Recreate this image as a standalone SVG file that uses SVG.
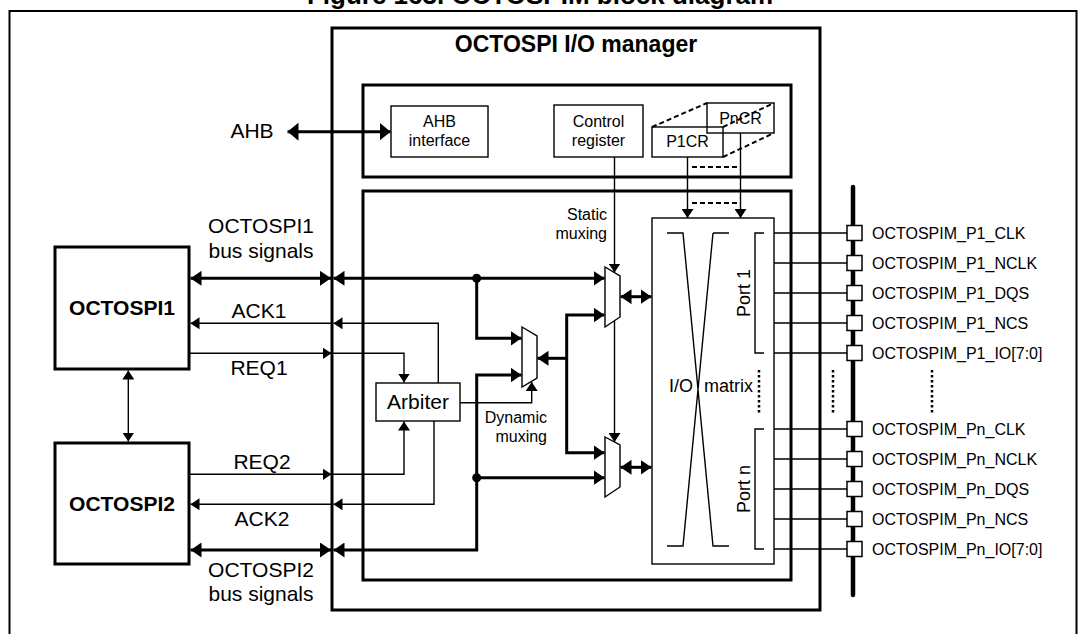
<svg xmlns="http://www.w3.org/2000/svg" width="1079" height="634" viewBox="0 0 1079 634">
<style>
text{font-family:"Liberation Sans",Arial,Helvetica,sans-serif;fill:#000}
.t21{font-size:21px}
.t16{font-size:16px}
.t18{font-size:18px}
.b{font-weight:bold}
.mid{text-anchor:middle}
.end{text-anchor:end}
.box{fill:#fff;stroke:#000;stroke-width:1.4}
.obox{fill:none;stroke:#000;stroke-width:1.4}
.tbox{fill:none;stroke:#000;stroke-width:3}
.bus{fill:none;stroke:#000;stroke-width:3}
.sig{fill:none;stroke:#000;stroke-width:1.4}
.dash{fill:none;stroke:#000;stroke-width:2;stroke-dasharray:5 3}
.dot{fill:none;stroke:#000;stroke-width:2.5;stroke-dasharray:2.5 2.5}
.mux{fill:#fff;stroke:#000;stroke-width:1.4}
</style>
<defs>
<marker id="ah" viewBox="0 0 11 15" refX="11" refY="7.5" markerWidth="11" markerHeight="15" markerUnits="userSpaceOnUse" orient="auto-start-reverse"><path d="M0,0L11,7.5L0,15z" fill="#000"/></marker>
<marker id="al" viewBox="0 0 11 18" refX="11" refY="9" markerWidth="11" markerHeight="18" markerUnits="userSpaceOnUse" orient="auto-start-reverse"><path d="M0,0L11,9L0,18z" fill="#000"/></marker>
<marker id="as" viewBox="0 0 9 12" refX="9" refY="6" markerWidth="9" markerHeight="12" markerUnits="userSpaceOnUse" orient="auto-start-reverse"><path d="M0,0L9,6L0,12z" fill="#000"/></marker>
</defs>
<rect width="1079" height="634" fill="#fff"/>
<g id="frame">
<rect x="9.5" y="11" width="1067" height="640" fill="none" stroke="#000" stroke-width="2"/>
<text x="540" y="4" class="b mid" style="font-size:26px">Figure 163. OCTOSPIM block diagram</text>
</g>
<g id="io-manager">
<rect x="332" y="28" width="488" height="582" class="tbox"/>
<text x="576" y="52" class="b mid" style="font-size:23px">OCTOSPI I/O manager</text>
</g>
<g id="register-block">
<rect x="363" y="85" width="428" height="92" class="tbox"/>
</g>
<g id="ahb-interface">
<rect x="391" y="106" width="97" height="51" class="box"/>
<text x="439.5" y="126.7" class="t16 mid">AHB</text>
<text x="439.5" y="146" class="t16 mid">interface</text>
</g>
<g id="control-register">
<rect x="554" y="105" width="89" height="52" class="box"/>
<text x="598.5" y="126.7" class="t16 mid">Control</text>
<text x="598.5" y="146" class="t16 mid">register</text>
</g>
<g id="pncr">
<rect x="707" y="103" width="67" height="30" class="obox"/>
<text x="740.5" y="124" class="t16 mid">PnCR</text>
</g>
<g id="p1cr">
<rect x="652" y="127" width="71" height="30" class="obox"/>
<text x="687.5" y="147.3" class="t16 mid">P1CR</text>
<path d="M652,127L707,103M723,127L774,103M723,157L774,133M692,167H737M692,203H737" class="dash"/>
</g>
<g id="mux-block">
<rect x="363" y="191" width="428" height="389" class="tbox"/>
<text x="607" y="220" class="t16 end">Static</text>
<text x="607" y="239" class="t16 end">muxing</text>
<text x="547" y="423" class="t16 end">Dynamic</text>
<text x="547" y="442" class="t16 end">muxing</text>
</g>
<g id="arbiter">
<rect x="376" y="383" width="84" height="38" class="box"/>
<text x="418" y="409" class="t21 mid">Arbiter</text>
</g>
<g id="dynamic-mux">
<path d="M522,327L537,336V378L522,387z" class="mux"/>
</g>
<g id="static-mux-1">
<path d="M605,267L620,276V317L605,327z" class="mux"/>
</g>
<g id="static-mux-2">
<path d="M605,437L620,445V487L605,497z" class="mux"/>
</g>
<g id="io-matrix">
<rect x="652" y="218" width="122" height="346" class="obox"/>
<path d="M667,233H683L713,546H729M713,233H729M713,233L683,546H667" class="sig" stroke-width="1.5"/>
<path d="M764,233H755V353H764M764,429H755V549H764" class="sig"/>
<text x="669" y="392" class="t18">I/O <tspan dx="6">matrix</tspan></text>
<text transform="translate(750,293) rotate(-90)" class="t18 mid">Port 1</text>
<text transform="translate(750,489) rotate(-90)" class="t18 mid">Port n</text>
<path d="M759,370V413" class="dot"/>
</g>
<g id="octospi1">
<rect x="55" y="247" width="134" height="122" class="tbox" fill="#fff"/>
<text x="122" y="315" class="t21 b mid">OCTOSPI1</text>
</g>
<g id="octospi2">
<rect x="55" y="443" width="134" height="121" class="tbox" fill="#fff"/>
<text x="122" y="511" class="t21 b mid">OCTOSPI2</text>
</g>
<g id="connectors">
<path d="M287.5,131.7H390.5" class="bus" marker-start="url(#al)" marker-end="url(#al)"/>
<path d="M190.5,278.3H331" class="bus" marker-start="url(#ah)" marker-end="url(#ah)"/>
<path d="M333.5,278.3H604.5" class="bus" marker-start="url(#ah)" marker-end="url(#ah)"/>
<path d="M476.7,278.3V338.3H521.5" class="bus" marker-end="url(#ah)"/>
<path d="M190.5,550H331" class="bus" marker-start="url(#ah)" marker-end="url(#ah)"/>
<path d="M333.5,550H476.7V375H521.5" class="bus" marker-start="url(#ah)" marker-end="url(#ah)"/>
<path d="M476.7,477.7H604.5" class="bus" marker-end="url(#ah)"/>
<path d="M604.5,315H566.7V452.7H604.5" class="bus" marker-start="url(#ah)" marker-end="url(#ah)"/>
<path d="M566.7,358.3H537.5" class="bus" marker-end="url(#ah)"/>
<path d="M620.5,296.7H651.5" class="bus" marker-start="url(#ah)" marker-end="url(#ah)"/>
<path d="M620.5,467.3H651.5" class="bus" marker-start="url(#ah)" marker-end="url(#ah)"/>
<circle cx="476.7" cy="278.3" r="4.5"/>
<circle cx="476.7" cy="477.7" r="4.5"/>
<path d="M331.5,323.3H190.5" class="sig" marker-end="url(#as)"/>
<path d="M438.3,383V323.3H333.5" class="sig" marker-end="url(#as)"/>
<path d="M189,353.3H331.5" class="sig" marker-end="url(#as)"/>
<path d="M331.5,353.3H404V382.5" class="sig" marker-end="url(#as)"/>
<path d="M189,474.3H331.5" class="sig" marker-end="url(#as)"/>
<path d="M331.5,474.3H404V421.5" class="sig" marker-end="url(#as)"/>
<path d="M331.5,504.3H190.5" class="sig" marker-end="url(#as)"/>
<path d="M434,421V504.3H333.5" class="sig" marker-end="url(#as)"/>
<path d="M460,402.7H531.7V382" class="sig" marker-end="url(#as)"/>
<path d="M614.5,157V272.5" class="sig" marker-end="url(#as)"/>
<path d="M614.5,321V442" class="sig" marker-end="url(#as)"/>
<path d="M687.5,157V218" class="sig" marker-end="url(#as)"/>
<path d="M740.5,133V218" class="sig" marker-end="url(#as)"/>
<path d="M128.3,370.5V441.5" class="sig" marker-start="url(#as)" marker-end="url(#as)"/>
<path d="M774,233H847M774,263H847M774,293H847M774,323H847M774,353H847M774,429H847M774,459H847M774,489H847M774,519H847M774,549H847" class="sig"/>
</g>
<g id="signal-labels">
<text x="261" y="233.3" class="t21 mid">OCTOSPI1</text>
<text x="261" y="258.3" class="t21 mid">bus signals</text>
<text x="259" y="318.3" class="t21 mid">ACK1</text>
<text x="259" y="375" class="t21 mid">REQ1</text>
<text x="262" y="469" class="t21 mid">REQ2</text>
<text x="262" y="525.7" class="t21 mid">ACK2</text>
<text x="261" y="576.7" class="t21 mid">OCTOSPI2</text>
<text x="261" y="600.5" class="t21 mid">bus signals</text>
<text x="252" y="138.3" class="t21 mid">AHB</text>
</g>
<g id="pin-bus">
<path d="M853,187V595" stroke="#000" stroke-width="4.5" stroke-linecap="round"/>
<path d="M833,370V413M932,370V413" class="dot"/>
<g fill="#fff" stroke="#000" stroke-width="1.5">
<rect x="847" y="225.5" width="15" height="15"/>
<rect x="847" y="255.5" width="15" height="15"/>
<rect x="847" y="285.5" width="15" height="15"/>
<rect x="847" y="315.5" width="15" height="15"/>
<rect x="847" y="345.5" width="15" height="15"/>
<rect x="847" y="421.5" width="15" height="15"/>
<rect x="847" y="451.5" width="15" height="15"/>
<rect x="847" y="481.5" width="15" height="15"/>
<rect x="847" y="511.5" width="15" height="15"/>
<rect x="847" y="541.5" width="15" height="15"/>
</g>
<text x="872" y="238.5" class="t16">OCTOSPIM_P1_CLK</text>
<text x="872" y="268.5" class="t16">OCTOSPIM_P1_NCLK</text>
<text x="872" y="298.5" class="t16">OCTOSPIM_P1_DQS</text>
<text x="872" y="328.5" class="t16">OCTOSPIM_P1_NCS</text>
<text x="872" y="358.5" class="t16">OCTOSPIM_P1_IO[7:0]</text>
<text x="872" y="434.5" class="t16">OCTOSPIM_Pn_CLK</text>
<text x="872" y="464.5" class="t16">OCTOSPIM_Pn_NCLK</text>
<text x="872" y="494.5" class="t16">OCTOSPIM_Pn_DQS</text>
<text x="872" y="524.5" class="t16">OCTOSPIM_Pn_NCS</text>
<text x="872" y="554.5" class="t16">OCTOSPIM_Pn_IO[7:0]</text>
</g>
</svg>
